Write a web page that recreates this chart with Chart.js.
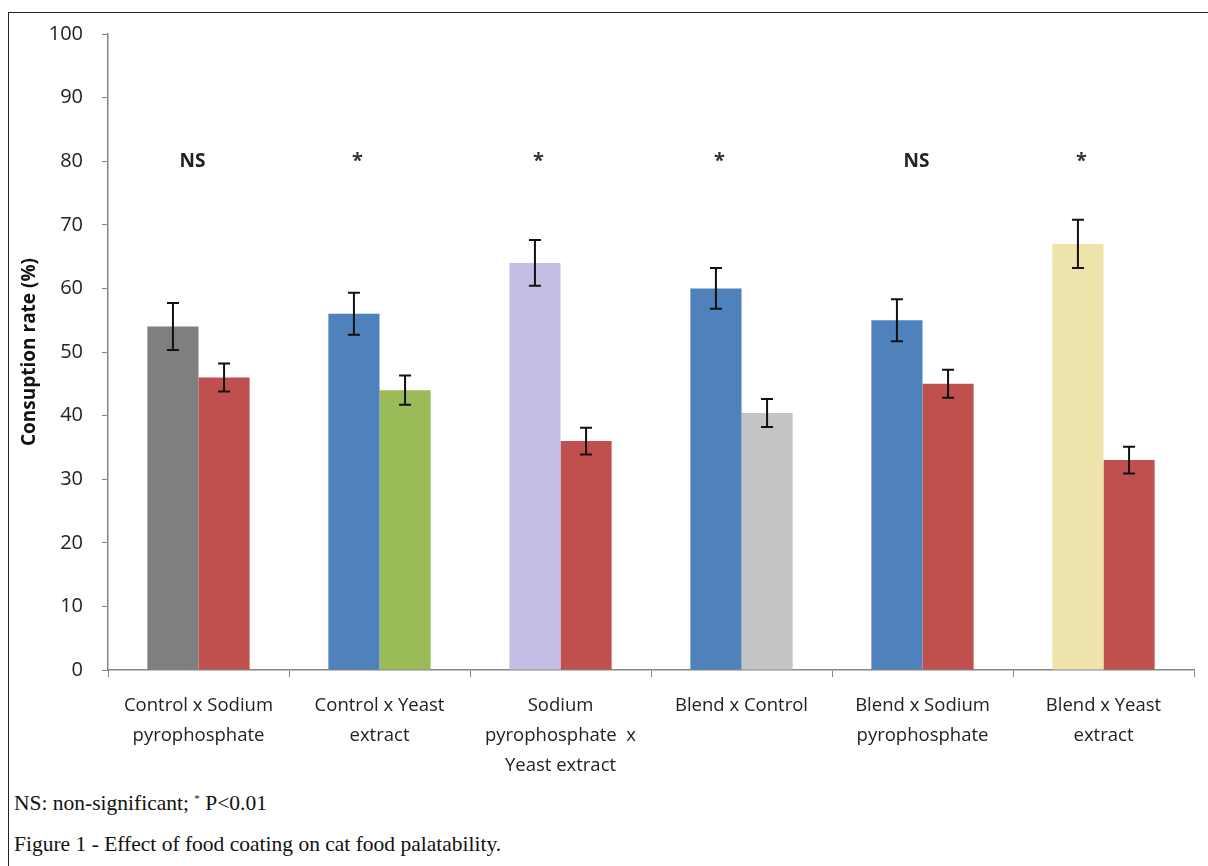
<!DOCTYPE html>
<html>
<head>
<meta charset="utf-8">
<script src="https://cdn.jsdelivr.net/npm/chart.js@4/dist/chart.umd.min.js"></script>
<style>
  body { margin: 0; background: #fff; width: 1208px; height: 866px; overflow: hidden; position: relative; }
  #frame { position: absolute; left: 8px; top: 12px; width: 1220px; height: 880px; border: 1.5px solid #222; box-sizing: border-box; }
  #wrap { position: absolute; left: 0; top: 0; width: 1208px; height: 782px; }
  .note { position: absolute; left: 14px; font-family: "Liberation Serif", serif; font-size: 21.5px; color: #111; white-space: nowrap; }
  sup { font-size: 11px; }
</style>
</head>
<body>
<div id="frame"></div>
<div id="wrap"><canvas id="chart"></canvas></div>
<div class="note" style="top:791px">NS: non-significant; <sup>*</sup> P&lt;0.01</div>
<div class="note" style="top:832px">Figure 1 - Effect of food coating on cat food palatability.</div>
<script>
// categories
const categories = [
    ["Control x Sodium", "pyrophosphate"],
    ["Control x Yeast", "extract"],
    ["Sodium", "pyrophosphate  x", "Yeast extract"],
    ["Blend x Control"],
    ["Blend x Sodium", "pyrophosphate"],
    ["Blend x Yeast", "extract"]
];
// first and second bar of each pair
const firstValues = [54, 56, 64, 60, 55, 67];
const firstErrors = [3.7, 3.3, 3.6, 3.2, 3.3, 3.8];
const secondValues = [46, 44, 36, 40.4, 45, 33];
const secondErrors = [2.2, 2.3, 2.1, 2.2, 2.2, 2.1];
const firstColors = ["#7f7f7f", "#4f81bd", "#c6bde4", "#4f81bd", "#4f81bd", "#eee3ab"];
const secondColors = ["#c0504d", "#9bbb59", "#c0504d", "#c4c4c4", "#c0504d", "#c0504d"];
const sigLabels = ["NS", "*", "*", "*", "NS", "*"];
const sigLevel = 80;
const yTicks = [0, 10, 20, 30, 40, 50, 60, 70, 80, 90, 100];

const FONT = "'Open Sans', Lato, sans-serif";

// error bars + significance marks
const extras = {
    id: "extras",
    afterDatasetsDraw(chart) {
        const ctx = chart.ctx;
        const y = chart.scales.y;
        const errs = [firstErrors, secondErrors];
        ctx.save();
        ctx.strokeStyle = "#111";
        ctx.lineWidth = 2;
        chart.data.datasets.forEach((ds, i) => {
            chart.getDatasetMeta(i).data.forEach((bar, j) => {
                const v = ds.data[j], e = errs[i][j];
                const top = y.getPixelForValue(v + e), bot = y.getPixelForValue(v - e);
                ctx.beginPath();
                ctx.moveTo(bar.x, top); ctx.lineTo(bar.x, bot);
                ctx.moveTo(bar.x - 6, top); ctx.lineTo(bar.x + 6, top);
                ctx.moveTo(bar.x - 6, bot); ctx.lineTo(bar.x + 6, bot);
                ctx.stroke();
            });
        });
        // marks sit a little left of the group centre, as in the original
        const x = chart.scales.x;
        ctx.textAlign = "center";
        ctx.textBaseline = "middle";
        sigLabels.forEach((s, j) => {
            const cx = x.getPixelForValue(j);
            const cy = y.getPixelForValue(sigLevel);
            if (s === "*") {
                ctx.fillStyle = "#333";
                ctx.font = "bold 20px " + FONT;
                ctx.fillText(s, cx - 22, cy);
            } else {
                ctx.fillStyle = "#222";
                ctx.font = "bold 19px " + FONT;
                ctx.fillText(s, cx - 6, cy);
            }
        });
        ctx.restore();
    }
};

new Chart(document.getElementById("chart"), {
    type: "bar",
    data: {
        labels: categories,
        datasets: [
            { data: firstValues, backgroundColor: firstColors },
            { data: secondValues, backgroundColor: secondColors }
        ]
    },
    options: {
        responsive: true,
        maintainAspectRatio: false,
        animation: false,
        layout: { padding: { top: 34, right: 14, left: 0, bottom: 0 } },
        datasets: { bar: { categoryPercentage: 0.565, barPercentage: 1 } },
        plugins: { legend: { display: false }, tooltip: { enabled: false } },
        scales: {
            x: {
                afterFit(s) { s.height = 112; },
                grid: { drawOnChartArea: false, tickLength: 7, color: "#868686", offset: true },
                border: { color: "#868686", width: 1.5 },
                ticks: {
                    color: "#222", padding: 14, maxRotation: 0, autoSkip: false,
                    font: { family: FONT, size: 18.5, lineHeight: 1.62 }
                }
            },
            y: {
                min: 0, max: 100,
                afterFit(s) { s.width = 108; },
                afterBuildTicks(s) { s.ticks = yTicks.map(v => ({ value: v })); },
                grid: { drawOnChartArea: false, tickLength: 6, color: "#868686" },
                border: { color: "#868686", width: 1.5 },
                ticks: {
                    color: "#222", padding: 19,
                    font: { family: FONT, size: 20 }
                },
                title: {
                    display: true, text: "Consuption rate (%)", color: "#111",
                    font: { family: FONT, size: 19, weight: "bold" },
                    padding: { top: 18, bottom: 0 }
                }
            }
        }
    },
    plugins: [extras]
});
</script>
</body>
</html>
